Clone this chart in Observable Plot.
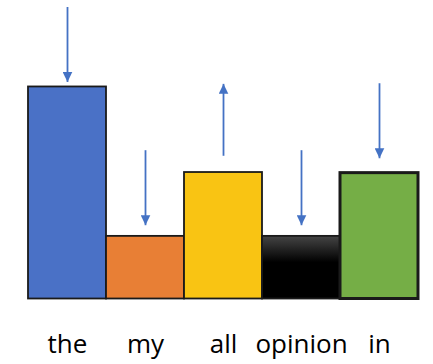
<!DOCTYPE html>
<html><head><meta charset="utf-8">
<script src="https://cdn.jsdelivr.net/npm/d3@7"></script>
<script src="https://cdn.jsdelivr.net/npm/@observablehq/plot@0.6"></script>
<style>body{margin:0;background:#fff;}</style>
</head><body><div id="chart"></div>
<script>
const words = ["the", "my", "all", "opinion", "in"];
const barValues = [3.42, 1.01, 2.04, 1.01, 2.03];
const barColors = ["#4A71C6", "#E87F35", "#F9C413", "url(#blackGrad)", "#75AE46"];
const arrowFrom = [4.71, 2.40, 2.31, 2.40, 3.48];
const arrowTo = [3.50, 1.19, 3.47, 1.19, 2.27];

const data = words.map((w, i) => ({word: w, value: barValues[i], color: barColors[i], from: arrowFrom[i], to: arrowTo[i]}));

function triHead(color, context) {
  const doc = (context && context.document) || document;
  const ns = "http://www.w3.org/2000/svg";
  const m = doc.createElementNS(ns, "marker");
  m.setAttribute("viewBox", "0 -5 10 10");
  m.setAttribute("markerWidth", 10);
  m.setAttribute("markerHeight", 10);
  m.setAttribute("markerUnits", "userSpaceOnUse");
  m.setAttribute("orient", "auto");
  m.setAttribute("refX", 10);
  m.setAttribute("refY", 0);
  const p = doc.createElementNS(ns, "path");
  p.setAttribute("d", "M0,-4.8L10,0L0,4.8Z");
  p.setAttribute("fill", color);
  p.setAttribute("stroke", "none");
  m.appendChild(p);
  return m;
}

const chart = Plot.plot({
  width: 433,
  height: 364,
  marginLeft: 27,
  marginRight: 14,
  marginTop: 0,
  marginBottom: 65.5,
  style: {fontFamily: "'Open Sans', sans-serif", background: "#fff"},
  x: {type: "band", domain: words, padding: 0, axis: null},
  y: {domain: [0, 298.5 / 62], axis: null},
  color: {type: "identity"},
  marks: [
    Plot.barY(data, {x: "word", y: "value", fill: "color", stroke: "#1a1a1a",
      strokeWidth: d => d.word === "in" ? 3 : 1.8, inset: 0}),
    Plot.link(data, {x1: "word", x2: "word", y1: "from", y2: "to",
      stroke: "#4472C4", strokeWidth: 1.8, markerEnd: triHead}),
    Plot.text(data, {x: "word", y: 0, text: "word", dy: 45.2, fontSize: 26, fill: "#000"})
  ]
});

const ns = "http://www.w3.org/2000/svg";
const defs = document.createElementNS(ns, "defs");
defs.innerHTML = '<linearGradient id="blackGrad" x1="0" y1="0" x2="0" y2="1">' +
  '<stop offset="0" stop-color="#454545"/><stop offset="0.42" stop-color="#000"/>' +
  '<stop offset="1" stop-color="#000"/></linearGradient>';
chart.insertBefore(defs, chart.firstChild);
document.getElementById("chart").appendChild(chart);
</script>
</body></html>
